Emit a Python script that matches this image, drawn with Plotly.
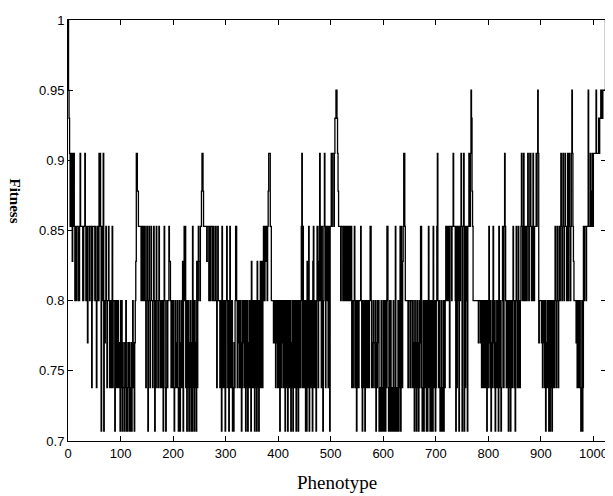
import plotly.graph_objects as go

# fitness levels used by the step trace
levels = {"0": 0.707, "1": 0.738, "2": 0.77, "3": 0.80, "4": 0.828, "5": 0.853,
          "6": 0.878, "7": 0.905, "8": 0.93, "9": 0.95, "A": 1.0}

# level codes, 16 phenotypes per chunk, phenotypes 0..1023
codes = [
    "A987575747575353", "5553535755553355", "7535325553555135", "5553531355375750",
    "3537032353133531", "3313513330313313", "2120313021102130", "1021201020131202",
    "3477665555535355", "3353135303531353", "3135303153313531", "3313103531013133",
    "5443132131013121", "3101302131404535", "1303130213020513", "0312041354435567",
    "7655555545553535", "5535353335313533", "3133053131301353", "1303513130102135",
    "5313231312031323", "1303130213130413", "2130313041303143", "1413543554535677",
    "7553333232313231", "3130313231313031", "3103131302130313", "1303130313135715",
    "3131030413503131", "3045131303541357", "3515303575135351", "3505575777578899",
    "8765555355535353", "5535355335351313", "3513303131333531", "0313203131313135",
    "5312132213021323", "0101301030130135", "5101303010130105", "1010303150531457",
    "7533333133313331", "3120312031203125", "5101303131030153", "1030130531301357",
    "3131013010303135", "5353531555355755", "5305153505357505", "5705155305577579",
    "8653333333333233", "3231313131313031", "3521302135213021", "3130513101353157",
    "5313130313013135", "3130353135131357", "5357353553575357", "7535375355575797",
    "2333323123213021", "3130303130313135", "3135313535753575", "3575535735753579",
    "7543333231313131", "0130153555355595", "5575567577777977", "778788989899999A",
]

x_ticks = [0, 100, 200, 300, 400, 500, 600, 700, 800, 900, 1000]
y_ticks = [0.7, 0.75, 0.8, 0.85, 0.9, 0.95, 1.0]
y_tick_text = ["0.7", "0.75", "0.8", "0.85", "0.9", "0.95", "1"]

code_str = "".join(codes)
assert all(len(c) == 16 for c in codes), [i for i, c in enumerate(codes) if len(c) != 16]
phenotype = list(range(len(code_str)))
fitness = [levels[c] for c in code_str]

fig = go.Figure()
fig.add_trace(go.Scatter(x=phenotype, y=fitness, mode="lines",
                         line=dict(color="black", width=1.3, shape="hv"),
                         showlegend=False, hoverinfo="skip"))

tickfont = dict(family="Liberation Sans, Arial, sans-serif", size=13, color="black")
fig.update_xaxes(range=[0, 1024], tickvals=x_ticks, ticks="inside", ticklen=5,
                 tickcolor="black", showline=True, linecolor="black", linewidth=1,
                 mirror="ticks", showgrid=False, zeroline=False, tickfont=tickfont)
fig.update_yaxes(range=[0.7, 1.0], tickvals=y_ticks, ticktext=y_tick_text,
                 ticks="inside", ticklen=5, tickcolor="black", showline=True,
                 linecolor="black", linewidth=1, mirror="ticks", showgrid=False,
                 zeroline=False, tickfont=tickfont)

fig.update_layout(
    width=605, height=488,
    margin=dict(l=60, r=5, t=8, b=55),
    paper_bgcolor="white", plot_bgcolor="white",
    annotations=[
        dict(text="Phenotype", xref="paper", yref="paper", x=0.5, y=0.0,
             yshift=-41, showarrow=False, xanchor="center", yanchor="middle",
             font=dict(family="Liberation Serif, Times New Roman, serif", size=19, color="black")),
        dict(text="<b>Fitness</b>", xref="paper", yref="paper", x=0, y=0.5,
             xshift=-53, yshift=30, textangle=90, showarrow=False,
             xanchor="center", yanchor="middle",
             font=dict(family="Liberation Serif, Times New Roman, serif", size=15, color="black")),
    ],
)

fig.write_html("out.html")
